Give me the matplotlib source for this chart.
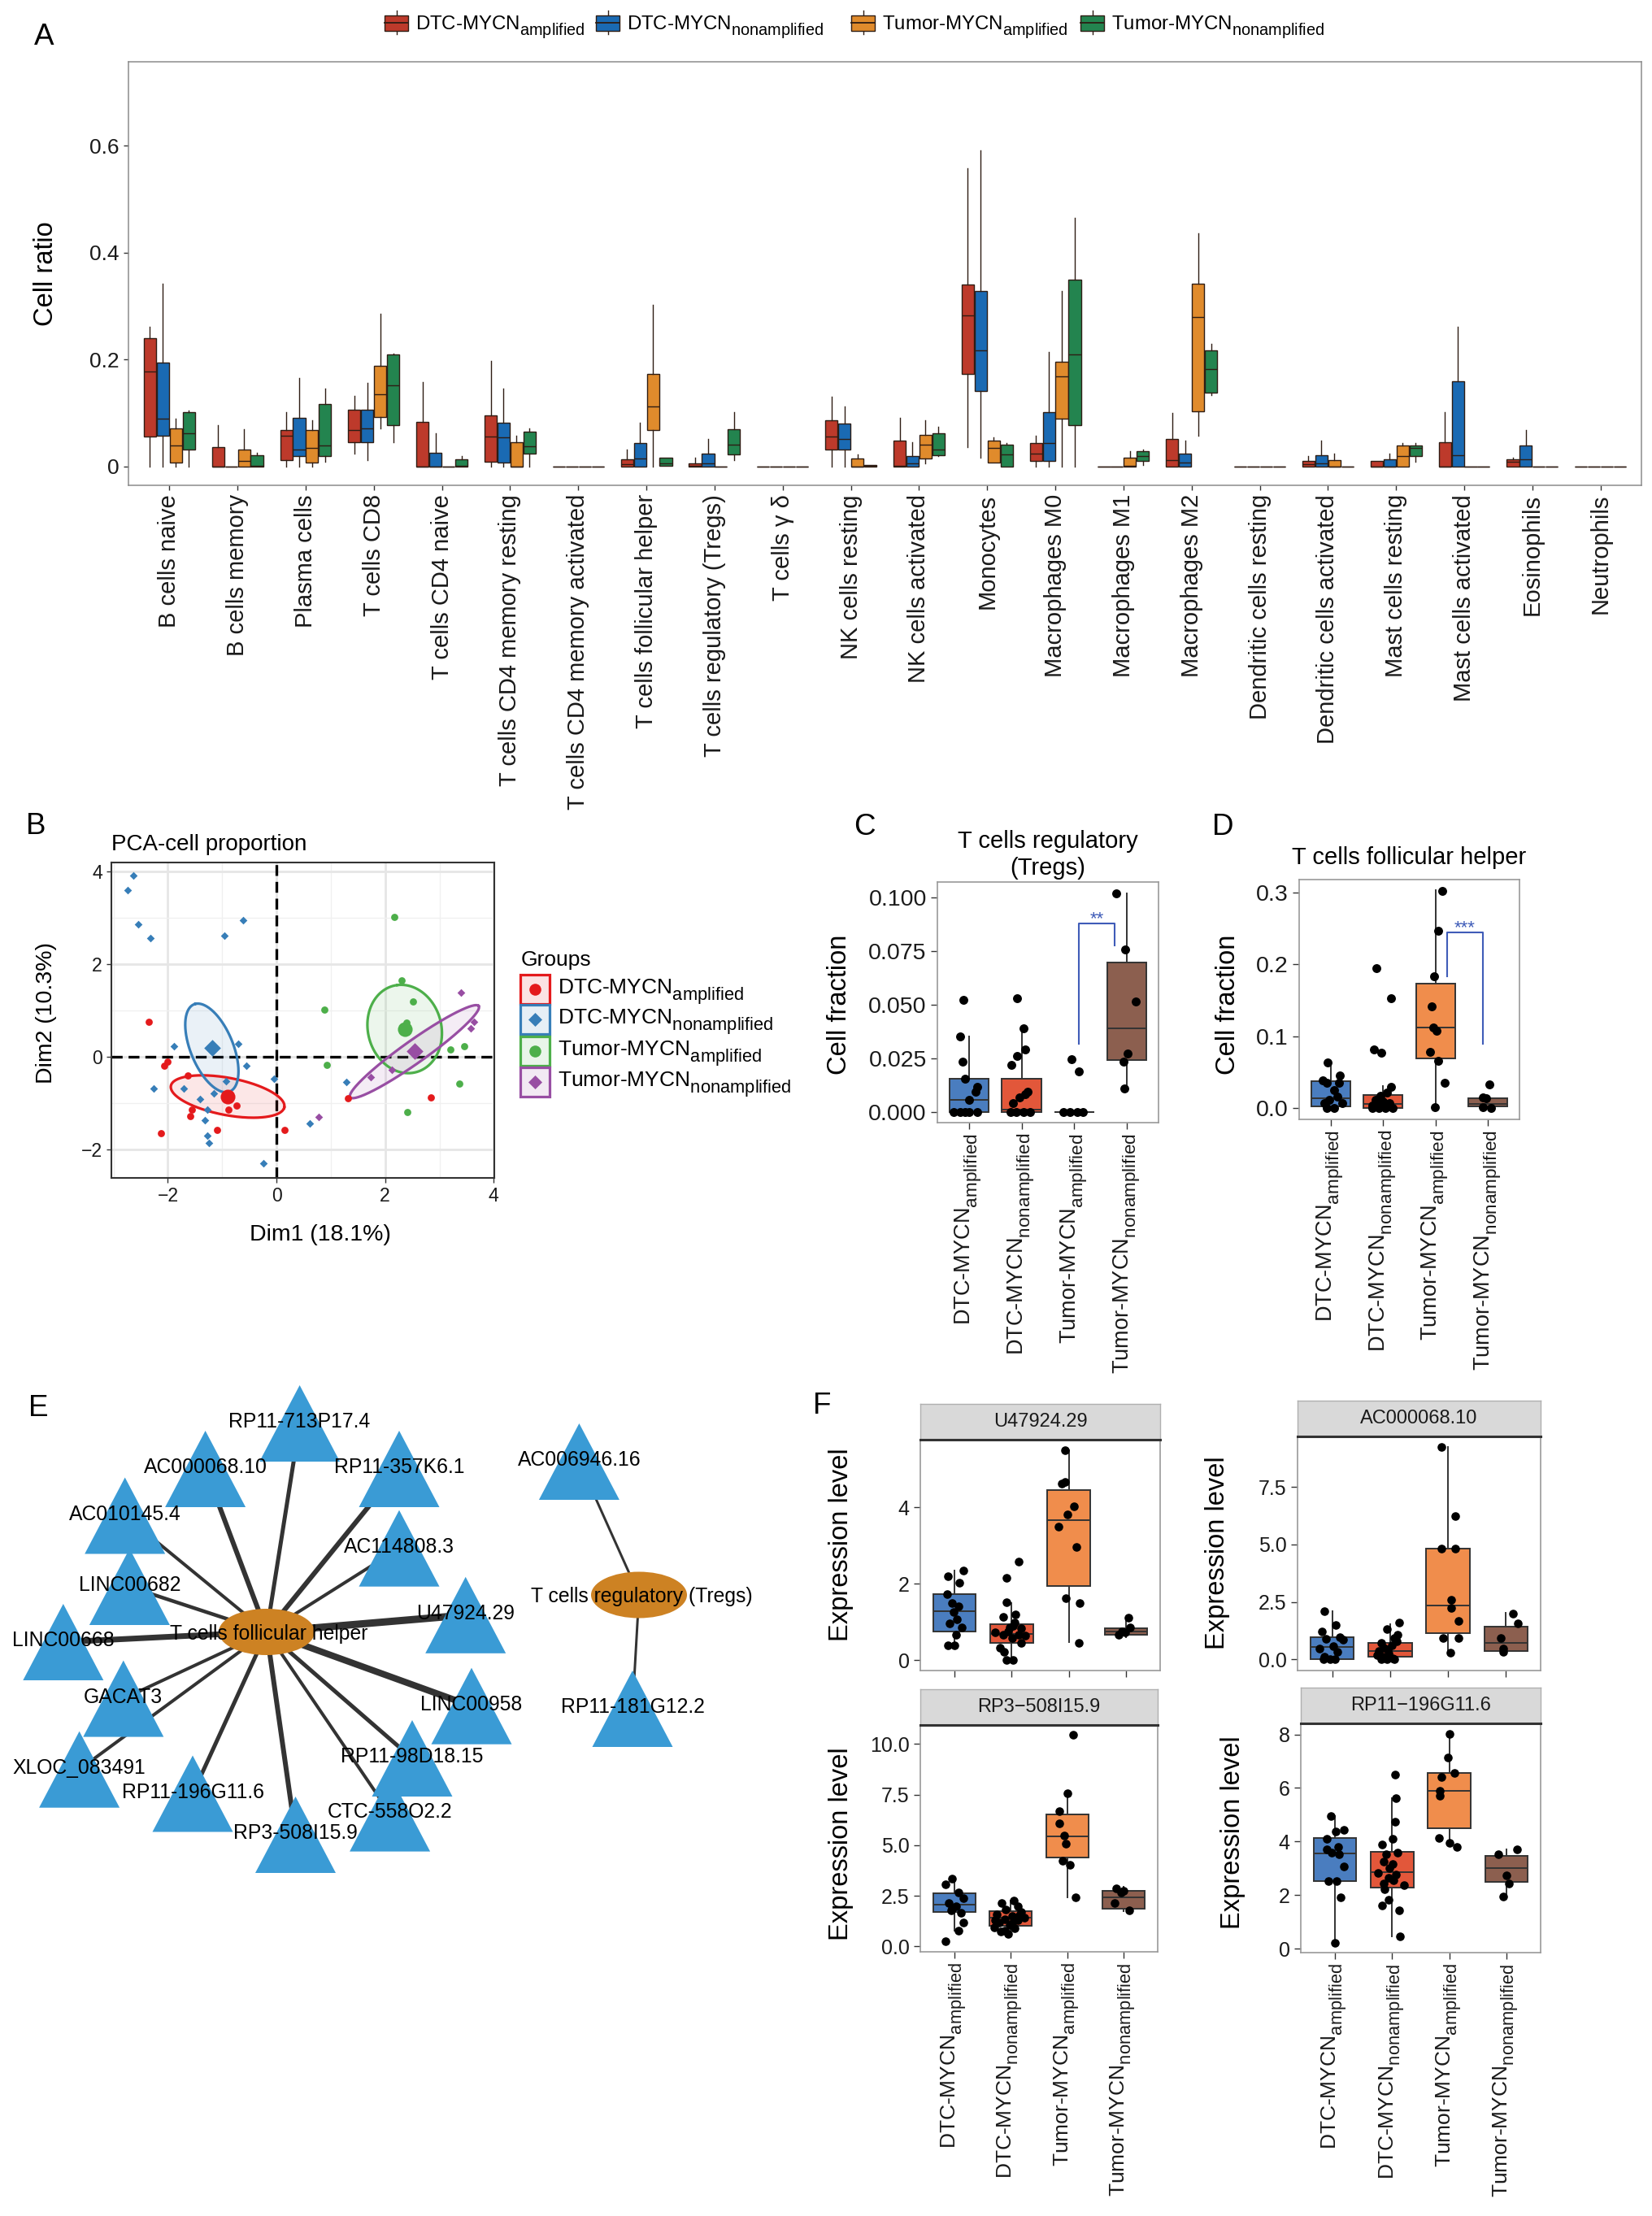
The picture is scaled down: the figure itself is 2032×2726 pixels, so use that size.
import numpy as np
import matplotlib
matplotlib.use("Agg")
import matplotlib.pyplot as plt
import matplotlib._mathtext as _mt
from matplotlib.patches import Rectangle, Ellipse, Polygon

W, H = 2032, 2726

plt.rcParams["font.family"] = ["Liberation Sans", "DejaVu Sans"]
plt.rcParams["mathtext.fontset"] = "custom"
plt.rcParams["mathtext.rm"] = "Liberation Sans"
plt.rcParams["mathtext.it"] = "Liberation Sans:italic"
plt.rcParams["mathtext.bf"] = "Liberation Sans:bold"
# ggplot-style subscripts: only a bit smaller than the base text, and dropped lower
_mt.SHRINK_FACTOR = 0.83
_mt.FontConstantsBase.sub1 = 0.6

# ---------------------------------------------------------------- data
GROUPS = [r"DTC-MYCN$_{\mathrm{amplified}}$", r"DTC-MYCN$_{\mathrm{nonamplified}}$",
          r"Tumor-MYCN$_{\mathrm{amplified}}$", r"Tumor-MYCN$_{\mathrm{nonamplified}}$"]

# panel A: box stats per cell type (whisker low, q1, median, q3, whisker high)
A_CELLS = ["B cells naive", "B cells memory", "Plasma cells", "T cells CD8", "T cells CD4 naive",
           "T cells CD4 memory resting", "T cells CD4 memory activated", "T cells follicular helper",
           "T cells regulatory (Tregs)", "T cells \u03b3 \u03b4", "NK cells resting", "NK cells activated",
           "Monocytes", "Macrophages M0", "Macrophages M1", "Macrophages M2", "Dendritic cells resting",
           "Dendritic cells activated", "Mast cells resting", "Mast cells activated", "Eosinophils",
           "Neutrophils"]
A_DTC_AMP = [(0, .056, .178, .240, .261), (0, 0, 0, .037, .078), (0, .012, .058, .068, .102),
             (.025, .046, .068, .106, .132), (0, 0, 0, .084, .158), (0, .009, .056, .095, .197),
             (0, 0, 0, 0, 0), (0, 0, .005, .013, .032), (0, 0, .002, .006, .016), (0, 0, 0, 0, 0),
             (0, .032, .056, .086, .131), (0, 0, .002, .048, .091), (.037, .174, .283, .340, .558),
             (0, .010, .025, .044, .058), (0, 0, 0, 0, 0), (0, 0, .012, .051, .100), (0, 0, 0, 0, 0),
             (0, 0, .004, .010, .019), (0, 0, 0, .010, .010), (0, 0, 0, .045, .102),
             (0, 0, .009, .013, .017), (0, 0, 0, 0, 0)]
A_DTC_NON = [(0, .058, .090, .195, .342), (0, 0, 0, 0, 0), (0, .019, .032, .091, .166),
             (.012, .046, .071, .106, .156), (0, 0, 0, .026, .062), (0, .008, .054, .082, .146),
             (0, 0, 0, 0, 0), (0, 0, .015, .044, .082), (0, 0, .006, .025, .052), (0, 0, 0, 0, 0),
             (0, .032, .051, .080, .112), (0, 0, .006, .020, .046), (.017, .141, .218, .329, .591),
             (0, .010, .044, .102, .214), (0, 0, 0, 0, 0), (0, 0, .008, .024, .048), (0, 0, 0, 0, 0),
             (0, 0, .006, .021, .048), (0, 0, 0, .013, .024), (0, 0, .022, .160, .261),
             (0, 0, .013, .039, .068), (0, 0, 0, 0, 0)]
A_TUM_AMP = [(0, .008, .040, .071, .090), (0, 0, .010, .032, .070), (0, .007, .035, .068, .087),
             (.071, .093, .136, .189, .285), (0, 0, 0, 0, 0), (0, 0, 0, .046, .058),
             (0, 0, 0, 0, 0), (0, .069, .113, .173, .303), (0, 0, 0, 0, 0), (0, 0, 0, 0, 0),
             (0, 0, 0, .015, .023), (.006, .015, .041, .060, .086), (.008, .008, .035, .048, .054),
             (0, .090, .168, .196, .328), (0, 0, .001, .017, .029), (.057, .103, .279, .342, .436),
             (0, 0, 0, 0, 0), (0, 0, 0, .012, .024), (0, 0, .020, .039, .044), (0, 0, 0, 0, 0),
             (0, 0, 0, 0, 0), (0, 0, 0, 0, 0)]
A_TUM_NON = [(0, .032, .063, .102, .105), (0, 0, .001, .022, .026), (.009, .019, .040, .117, .146),
             (.046, .077, .152, .209, .212), (0, 0, .001, .014, .019), (0, .025, .038, .066, .071),
             (0, 0, 0, 0, 0), (.002, .002, .006, .016, .017), (.012, .023, .041, .070, .102),
             (0, 0, 0, 0, 0), (0, 0, .001, .003, .003), (.020, .022, .032, .062, .074),
             (0, 0, .023, .041, .044), (0, .078, .210, .349, .465), (.003, .010, .020, .029, .032),
             (.134, .139, .182, .218, .229), (0, 0, 0, 0, 0), (0, 0, 0, 0, 0),
             (.009, .019, .035, .039, .044), (0, 0, 0, 0, 0), (0, 0, 0, 0, 0), (0, 0, 0, 0, 0)]
A_STATS = [A_DTC_AMP, A_DTC_NON, A_TUM_AMP, A_TUM_NON]

# panel B: PCA scores
B_X = [[-2.35, -2.01, -2.06, -1.63, -1.56, -1.59, -2.12, -1.10, -0.91, -0.73, -0.89, 0.15, 1.31, 2.84],
       [-2.64, -2.74, -2.55, -2.32, -0.62, -0.96, -1.89, -0.70, -0.55, -2.26, -1.71, -0.93, -1.16, -1.41,
        -1.27, -1.32, -1.27, -1.24, -0.24, -0.05, 0.61, 1.29],
       [2.17, 2.30, 2.51, 0.88, 2.39, 3.20, 3.46, 0.93, 3.37, 2.41],
       [3.39, 3.63, 3.58, 2.12, 1.74, 0.77]]
B_Y = [[0.76, -0.11, -0.19, -0.41, -1.14, -1.28, -1.66, -1.58, -0.79, -1.05, -1.15, -1.58, -0.89, -0.88],
       [3.91, 3.60, 2.86, 2.56, 2.95, 2.62, 0.22, 0.28, -0.19, -0.68, -0.69, -0.53, -0.79, -0.91,
        -1.14, -1.37, -1.71, -1.86, -2.31, -0.47, -1.44, -0.55],
       [3.02, 1.66, 1.20, 1.02, 0.73, 0.15, 0.22, -0.18, -0.58, -1.19],
       [1.39, 0.76, 0.61, -0.28, -0.44, -1.31]]
# ellipse: centre x, centre y, semi-major, semi-minor, angle (deg, data units)
B_ELL = [(-0.90, -0.86, 1.07, 0.40, -13), (-1.19, 0.19, 1.00, 0.40, 108),
         (2.36, 0.60, 0.96, 0.68, 98), (2.54, 0.11, 1.54, 0.23, 40)]

# panel C: T cells regulatory (Tregs)
C_BOX = [(0, 0, .0057, .0157, .035), (0, 0, .001, .0157, .039), (0, 0, 0, 0, 0),
         (.0113, .0243, .039, .0696, .1017)]
C_VALS = [[.052, .035, .0235, .0157, .0118, .0096, .0057, 0, 0, 0, 0, 0],
          [.053, .039, .029, .026, .022, .0096, .0083, .007, .004, 0, 0, 0, 0],
          [.0245, .019, 0, 0, 0, 0],
          [.1017, .0757, .0513, .0271, .0235, .011]]
C_JIT = [[-.10, -.17, -.12, -.07, .15, .13, 0, -.17, 0, .15, -.29, -.08],
         [-.09, .03, .06, -.09, -.2, .11, .06, -.04, -.16, -.21, -.1, .03, .16],
         [-.05, .08, -.2, -.08, .05, .17],
         [-.2, -.04, .16, .01, -.07, -.05]]
C_SIG = (3.08, 3.77, .0878, .0318, .0774, "**")

# panel D: T cells follicular helper
D_BOX = [(0, .002, .013, .0374, .063), (0, 0, .006, .018, .030), (0, .069, .112, .173, .303),
         (0, .0026, .006, .014, .015)]
D_VALS = [[.0634, .0385, .0452, .0244, .0348, .0156, .0114, .0062, 0, 0, .0062, .0348],
          [.195, .153, .0816, .0764, .0296, .0218, .0166, .0114, .0088, .0062, .0036, 0, 0, 0, 0, .006],
          [.3027, .247, .183, .1414, .1118, .1076, .0775, .066, .0348, .001],
          [.0333, .0151, .014, .001, 0]]
D_JIT = [[-.05, -.15, .18, .06, -.07, .13, -.02, -.12, -.07, .06, .22, .16],
         [-.12, .15, -.18, -.03, .15, .08, -.05, -.15, 0, .12, -.2, -.08, .05, .18, -.21, -.1],
         [.12, .05, -.03, -.08, -.05, .02, -.1, .05, .17, -.01],
         [.03, -.1, -.03, -.1, .05]]
D_SIG = (3.22, 3.90, .244, .183, .089, "***")

# panel E: lncRNA network (layout positions, px)
E_HUBS = ["T cells follicular helper", "T cells regulatory (Tregs)"]
E_HUB_X = [328, 786]
E_HUB_Y = [2007.5, 1962]
E_TFH_GENES = ["RP11-713P17.4", "AC000068.10", "RP11-357K6.1", "AC010145.4", "AC114808.3", "LINC00682",
               "U47924.29", "LINC00668", "GACAT3", "LINC00958", "XLOC_083491", "RP11-98D18.15",
               "RP11-196G11.6", "CTC-558O2.2", "RP3-508I15.9"]
E_TFH_X = [368.6, 252.6, 491, 153.7, 491, 159.4, 572.7, 77.8, 151.8, 580, 97.6, 507, 237, 479.6, 363.5]
E_TFH_Y = [1751, 1807, 1807, 1864.5, 1904.7, 1952, 1986.8, 2020, 2089.6, 2098.7, 2176.7, 2163,
           2206.5, 2230.6, 2257]
E_TFH_W = [5, 6, 6, 4, 4, 4.5, 9, 7, 4, 8, 4, 5, 5, 4, 6]
E_TREG_GENES = ["AC006946.16", "RP11-181G12.2"]
E_TREG_X = [712.4, 778]
E_TREG_Y = [1798, 2102]
E_TREG_W = [3, 3]

# panel F: expression of four lncRNAs
F_TITLES = ["U47924.29", "AC000068.10", "RP3\u2212508I15.9", "RP11\u2212196G11.6"]
F_BOX = [
    [(.38, .76, 1.29, 1.73, 2.34), (0, .45, .68, .945, 1.49), (.47, 1.94, 3.67, 4.45, 5.50),
     (.61, .66, .75, .83, 1.12)],
    [(0, 0, .53, .97, 2.09), (0, .13, .35, .73, 1.52), (.28, 1.14, 2.36, 4.83, 9.23),
     (.29, .38, .72, 1.42, 2.02)],
    [(.77, 1.69, 2.08, 2.62, 3.36), (.6, 1.0, 1.40, 1.72, 2.25), (2.42, 4.38, 5.43, 6.54, 7.56),
     (1.74, 1.86, 2.42, 2.76, 2.93)],
    [(.21, 2.51, 3.56, 4.12, 4.96), (.46, 2.27, 2.84, 3.62, 5.63), (3.84, 4.48, 5.88, 6.55, 8.03),
     (1.95, 2.49, 3.0, 3.45, 3.71)]]
F_VALS = [
    [[2.35, 2.19, 2.02, 1.73, 1.50, 1.42, 1.27, 1.08, .85, .66, .38, .38, .97],
     [2.57, 2.16, 1.52, 1.20, 1.14, .98, .91, .83, .75, .72, .66, .65, .59, .45, .32, .21, 0, 0, .85, .66],
     [5.50, 4.62, 4.66, 4.03, 3.82, 3.50, 2.96, 1.62, 1.50, .46],
     [1.12, .85, .75, .66, .72]],
    [[2.09, 1.48, 1.23, .97, .85, .88, .57, .47, .34, .13, 0, 0, 0],
     [1.61, 1.33, 1.07, .95, .72, .63, .51, .38, .25, .13, 0, 0, .06, .80, .44, .19, 0],
     [9.23, 6.23, 4.83, 4.83, 2.59, 2.24, 1.67, .95, .95, .28],
     [2.0, 1.58, .95, .48, .32]],
    [[3.36, 3.07, 2.67, 2.37, 2.16, 1.99, 1.86, 1.18, .77, .24, 1.79, 1.65],
     [2.25, 2.13, 1.99, 1.82, 1.69, 1.57, 1.48, 1.35, 1.28, 1.18, 1.06, .94, .89, .77, .60, .72, 1.52,
      1.40, 1.28, 1.14],
     [10.46, 7.56, 6.68, 6.08, 5.49, 5.06, 4.21, 4.04, 2.42],
     [2.88, 2.76, 2.16, 1.77, 2.67]],
    [[4.94, 4.42, 4.36, 4.10, 3.80, 3.58, 3.52, 3.07, 2.51, 2.51, 1.91, .21, 3.71],
     [6.51, 5.62, 4.74, 4.10, 3.90, 3.58, 3.52, 3.26, 3.16, 3.0, 2.81, 2.77, 2.64, 2.42, 2.23, 2.36,
      1.82, 1.61, 1.42, .45, 2.55],
     [8.03, 7.13, 6.57, 6.42, 5.90, 5.71, 4.12, 3.94, 3.81],
     [3.52, 3.71, 2.72, 2.42, 1.93]]]
F_JIT = [
    [[.15, -.11, .09, -.13, -.04, .07, -.02, .04, .13, .02, -.11, 0, -.09],
     [.12, -.09, -.09, .07, -.15, .05, .03, .16, -.06, -.29, .12, .23, .01, .16, -.2, -.13, -.09, .03,
      -.04, -.15],
     [-.07, -.12, -.07, .09, -.02, -.18, .13, -.05, .19, .17],
     [.04, .07, -.07, -.13, -.01]],
    [[-.13, .06, -.18, .13, .18, -.11, .02, -.22, .09, -.13, -.04, .04, -.15],
     [.16, -.06, .13, .07, -.15, .03, -.11, -.2, -.02, -.13, -.06, -.15, .05, .12, -.04, -.22, .07],
     [-.12, .13, -.11, .13, .06, .06, .18, -.09, .18, .04],
     [.12, .21, -.09, -.04, -.04]],
    [[-.04, -.16, .07, .16, -.09, .03, -.04, .16, .07, -.16, -.06, .12],
     [.05, -.16, .12, -.09, .18, -.25, .03, -.11, .12, -.2, -.02, -.29, .07, -.11, -.04, -.18, .16, .24,
      -.27, .03],
     [.11, 0, -.14, -.14, -.05, -.02, -.09, .05, .15],
     [-.14, 0, -.16, .09, -.05]],
    [[-.08, .16, .01, -.15, .05, -.06, .07, .16, -.11, .03, .1, 0, -.14],
     [.05, .07, .05, .01, -.18, .1, -.11, -.15, .01, -.05, -.25, .07, -.06, -.15, -.13, .21, -.06, -.17,
      .12, .14, .03],
     [0, -.02, .09, -.13, -.17, -.17, -.18, 0, .14],
     [-.14, .18, 0, .05, -.06]]]

# ---------------------------------------------------------------- style
A_COLORS = ["#BD3A2B", "#1A6AB3", "#E08B2C", "#23844F"]
B_COLORS = ["#E41A1C", "#377EB8", "#4DAF4A", "#984EA3"]
BOX_COLORS = ["#4A7DBF", "#E2573A", "#F08D4C", "#8C5F4F"]
SIG_COLOR = "#3F5CB8"

fig = plt.figure(figsize=(W / 100, H / 100), dpi=100)
fig.patch.set_facecolor("white")

over = fig.add_axes([0, 0, 1, 1])
over.set_xlim(0, W); over.set_ylim(H, 0); over.axis("off")


def axes_px(l, t, r, b):
    return fig.add_axes([l / W, 1 - b / H, (r - l) / W, (b - t) / H])


def frame(ax, color="#8c8c8c", lw=1.1):
    for s in ax.spines.values():
        s.set_color(color); s.set_linewidth(lw)
    ax.tick_params(length=4.5, width=1.0, color="#333333", labelcolor="#1a1a1a")


def draw_boxes(ax, stats, pos, width, colors, lw, edge):
    bx = [dict(whislo=s[0], q1=s[1], med=s[2], q3=s[3], whishi=s[4], fliers=[]) for s in stats]
    art = ax.bxp(bx, positions=pos, widths=width, patch_artist=True, showfliers=False,
                 showcaps=False, manage_ticks=False,
                 boxprops=dict(edgecolor=edge, linewidth=lw),
                 medianprops=dict(color=edge, linewidth=lw),
                 whiskerprops=dict(color=edge, linewidth=lw))
    for p, c in zip(art["boxes"], colors):
        p.set_facecolor(c)


def panel_label(x, y, s):
    over.text(x, y, s, fontsize=26.5, va="baseline", ha="left", color="black")


# ---------------------------------------------------------------- A
axA = axes_px(158, 76, 2019, 597)
posA = np.arange(1, len(A_CELLS) + 1)
for g, stats in enumerate(A_STATS):
    draw_boxes(axA, stats, posA + [-0.285, -0.095, 0.095, 0.285][g], 0.18,
               [A_COLORS[g]] * len(stats), lw=1.0, edge="#2e1d14")
axA.set_xlim(0.4, 22.6)
axA.set_ylim(-0.035, 0.757)
axA.set_xticks(posA)
axA.set_xticklabels(A_CELLS, rotation=90, fontsize=21)
axA.set_yticks([0, 0.2, 0.4, 0.6])
axA.set_yticklabels(["0", "0.2", "0.4", "0.6"], fontsize=19)
axA.set_ylabel("Cell ratio", fontsize=23.5)
axA.yaxis.set_label_coords(-0.046, 0.5)
frame(axA)
panel_label(42, 55, "A")

key_left = [473, 733, 1047, 1329]
for kx, lab, col in zip(key_left, GROUPS, A_COLORS):
    over.plot([kx + 14.5, kx + 14.5], [13, 42], color="#2e1d14", lw=1.0, zorder=2)
    over.add_patch(Rectangle((kx, 18.5), 29, 19, facecolor=col, edgecolor="#2e1d14", lw=1.0, zorder=3))
    over.plot([kx, kx + 29], [28, 28], color="#2e1d14", lw=1.3, zorder=4)
    over.text(kx + 38, 36, lab, fontsize=17.3, va="baseline", ha="left")

# ---------------------------------------------------------------- B
axB = axes_px(137, 1061, 608, 1449)
axB.set_xlim(-3.04, 4.01)
axB.set_ylim(-2.62, 4.2)
axB.set_xticks([-2, 0, 2, 4]); axB.set_xticks([-3, -1, 1, 3], minor=True)
axB.set_yticks([-2, 0, 2, 4]); axB.set_yticks([-1, 1, 3], minor=True)
axB.set_xticklabels(["\u22122", "0", "2", "4"], fontsize=16.6)
axB.set_yticklabels(["\u22122", "0", "2", "4"], fontsize=16.6)
axB.grid(which="major", color="#e6e6e6", lw=2.0)
axB.grid(which="minor", color="#f0f0f0", lw=1.0)
axB.set_axisbelow(True)
frame(axB, color="#333333", lw=1.5)
axB.tick_params(which="minor", length=0)
axB.axhline(0, color="black", lw=2.4, ls=(0, (4, 2.2)), zorder=2)
axB.axvline(0, color="black", lw=2.4, ls=(0, (4, 2.2)), zorder=2)
t = np.linspace(0, 2 * np.pi, 300)
for (cx, cy, a, b, ang), col in zip(B_ELL, B_COLORS):
    th = np.deg2rad(ang)
    ex = cx + a * np.cos(t) * np.cos(th) - b * np.sin(t) * np.sin(th)
    ey = cy + a * np.cos(t) * np.sin(th) + b * np.sin(t) * np.cos(th)
    axB.fill(ex, ey, color=col, alpha=0.1, lw=0, zorder=3)
    axB.plot(ex, ey, color=col, lw=2.3, zorder=4)
for g, (xs, ys, col) in enumerate(zip(B_X, B_Y, B_COLORS)):
    mk = "o" if g in (0, 2) else "D"
    sz = 40 if mk == "o" else 24
    axB.scatter(xs, ys, s=sz, marker=mk, color=col, lw=0, zorder=5)
    axB.scatter([np.mean(xs)], [np.mean(ys)], s=170 if mk == "o" else 110, marker=mk,
                color=col, lw=0, zorder=6)
axB.set_xlabel("Dim1 (18.1%)", fontsize=20.5)
axB.xaxis.set_label_coords(0.546, -0.147)
axB.set_ylabel("Dim2 (10.3%)", fontsize=20.5)
axB.yaxis.set_label_coords(-0.142, 0.523)
over.text(137, 1046, "PCA-cell proportion", fontsize=20, va="baseline", ha="left")
panel_label(32, 1026.5, "B")

over.text(641, 1188, "Groups", fontsize=19, va="baseline", ha="left")
for g, (lab, col) in enumerate(zip(GROUPS, B_COLORS)):
    cy = [1216.5, 1254, 1292.5, 1331][g]
    over.add_patch(Rectangle((640, cy - 18), 36, 36, facecolor=col, alpha=0.12, lw=0))
    over.add_patch(Rectangle((640, cy - 18), 36, 36, facecolor="none", edgecolor=col, lw=2.3))
    over.scatter([658], [cy], s=110 if g in (0, 2) else 75, marker="o" if g in (0, 2) else "D",
                 color=col, lw=0, zorder=5)
    over.text(686, cy + 7, lab, fontsize=19, va="baseline", ha="left")


# ---------------------------------------------------------------- C, D
def cat_panel(ax, box, vals, jit, ylim, yticks, ylabels, xlabels=True, fs_tick=20.5, fs_x=19.5,
              dot=62):
    pos = np.arange(1, 5)
    draw_boxes(ax, box, pos, 0.75, BOX_COLORS, lw=1.4, edge="#333333")
    for i in range(4):
        ax.scatter(pos[i] + np.array(jit[i]), vals[i], s=dot, color="black", lw=0, zorder=5)
    ax.set_xlim(0.4, 4.6)
    ax.set_ylim(*ylim)
    ax.set_yticks(yticks)
    ax.set_yticklabels(ylabels, fontsize=fs_tick)
    ax.set_xticks(pos)
    if xlabels:
        ax.set_xticklabels(GROUPS, rotation=90, fontsize=fs_x)
    else:
        ax.set_xticklabels([])
    frame(ax, color="#9a9a9a", lw=1.2)
    ax.tick_params(length=6)


def sig(ax, s):
    x0, x1, yt, y0, y1, txt = s
    ax.plot([x0, x0, x1, x1], [y0, yt, yt, y1], color=SIG_COLOR, lw=1.5, zorder=6)
    ax.text((x0 + x1) / 2, yt, txt, color=SIG_COLOR, fontsize=16, ha="center", va="baseline")


axC = axes_px(1153, 1085, 1425, 1381)
cat_panel(axC, C_BOX, C_VALS, C_JIT, (-0.0049, 0.107), [0, .025, .05, .075, .1],
          ["0.000", "0.025", "0.050", "0.075", "0.100"])
sig(axC, C_SIG)
axC.set_ylabel("Cell fraction", fontsize=23.5)
axC.yaxis.set_label_coords(-0.386, 0.49)
over.text(1289, 1043, "T cells regulatory", fontsize=21, ha="center", va="baseline")
over.text(1289, 1076, "(Tregs)", fontsize=21, ha="center", va="baseline")
panel_label(1050, 1027, "C")

axD = axes_px(1598, 1082, 1869, 1377)
cat_panel(axD, D_BOX, D_VALS, D_JIT, (-0.0159, 0.318), [0, .1, .2, .3], ["0.0", "0.1", "0.2", "0.3"])
sig(axD, D_SIG)
axD.set_ylabel("Cell fraction", fontsize=23.5)
axD.yaxis.set_label_coords(-0.266, 0.479)
over.text(1733, 1063, "T cells follicular helper", fontsize=21, ha="center", va="baseline")
panel_label(1491, 1027, "D")

# ---------------------------------------------------------------- E
TRI_W, TRI_H = 99, 94
TRI_COLOR = "#3A9BD5"
for gx, gy, w in zip(E_TFH_X, E_TFH_Y, E_TFH_W):
    over.plot([E_HUB_X[0], gx], [E_HUB_Y[0], gy], color="#333333", lw=w * 0.72,
              solid_capstyle="butt", zorder=2)
for gx, gy, w in zip(E_TREG_X, E_TREG_Y, E_TREG_W):
    over.plot([E_HUB_X[1], gx], [E_HUB_Y[1], gy], color="#333333", lw=w * 0.72,
              solid_capstyle="butt", zorder=2)
for gx, gy, name in zip(E_TFH_X + E_TREG_X, E_TFH_Y + E_TREG_Y, E_TFH_GENES + E_TREG_GENES):
    over.add_patch(Polygon([(gx, gy - TRI_H / 2), (gx - TRI_W / 2, gy + TRI_H / 2),
                            (gx + TRI_W / 2, gy + TRI_H / 2)], closed=True,
                           facecolor=TRI_COLOR, edgecolor="none", zorder=3))
for hx, hy in zip(E_HUB_X, E_HUB_Y):
    over.add_patch(Ellipse((hx, hy), 118, 57, facecolor="#CD8223", edgecolor="none", zorder=4))
for gx, gy, name in zip(E_TFH_X + E_TREG_X, E_TFH_Y + E_TREG_Y, E_TFH_GENES + E_TREG_GENES):
    over.text(gx, gy - 2, name, fontsize=17.8, ha="center", va="center", zorder=6)
for hx, hy, name in zip(E_HUB_X, E_HUB_Y, E_HUBS):
    over.text(hx + 3, hy + 2, name, fontsize=17.8, ha="center", va="center", zorder=6)
panel_label(35, 1742, "E")

# ---------------------------------------------------------------- F
F_RECTS = [(1132, 1771, 1427, 2055), (1596, 1767, 1895, 2055),
           (1132, 2122, 1424, 2401), (1600, 2120, 1895, 2402)]
F_YLIM = [(-0.27, 5.77), (-0.48, 9.69), (-0.27, 10.94), (-0.15, 8.41)]
F_YT = [([0, 2, 4], ["0", "2", "4"]),
        ([0, 2.5, 5, 7.5], ["0.0", "2.5", "5.0", "7.5"]),
        ([0, 2.5, 5, 7.5, 10], ["0.0", "2.5", "5.0", "7.5", "10.0"]),
        ([0, 2, 4, 6, 8], ["0", "2", "4", "6", "8"])]
F_YLAB = [(-0.278, 0.546), (-0.278, 0.503), (-0.281, 0.477), (-0.229, 0.525)]
for k in range(4):
    l, tp, r, b = F_RECTS[k]
    ax = axes_px(l, tp, r, b)
    cat_panel(ax, F_BOX[k], F_VALS[k], F_JIT[k], F_YLIM[k], F_YT[k][0], F_YT[k][1],
              xlabels=k >= 2, fs_tick=18, fs_x=19, dot=58)
    ax.set_ylabel("Expression level", fontsize=23.5)
    ax.yaxis.set_label_coords(*F_YLAB[k])
    st = axes_px(l, tp - 44, r, tp)
    st.set_facecolor("#d9d9d9")
    st.set_xticks([]); st.set_yticks([])
    for sp in st.spines.values():
        sp.set_color("#b0b0b0"); sp.set_linewidth(1.0)
    st.spines["bottom"].set_color("#333333"); st.spines["bottom"].set_linewidth(2.2)
    st.text(0.5, 0.5, F_TITLES[k], fontsize=17, ha="center", va="center",
            transform=st.transAxes, color="#1a1a1a")
panel_label(1000, 1739, "F")

fig.savefig("out.png", dpi=100, facecolor="white")
